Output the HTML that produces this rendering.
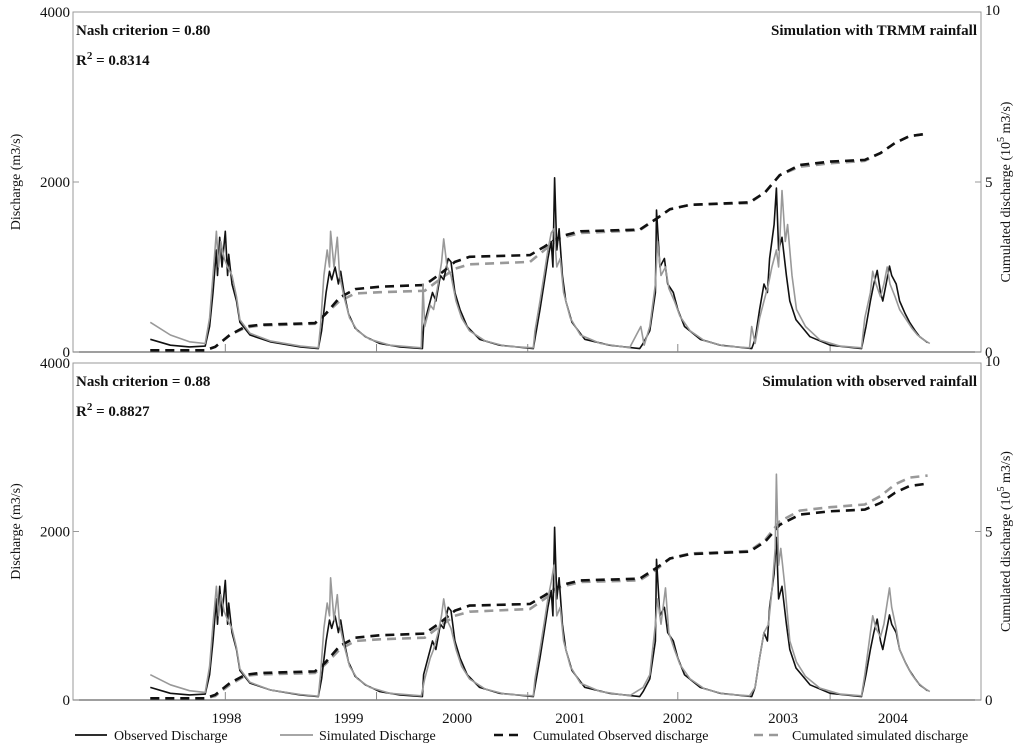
<!DOCTYPE html>
<html><head><meta charset="utf-8"><style>
html,body{margin:0;padding:0;background:#fff;}
svg{display:block;font-family:"Liberation Serif",serif;}
</style></head><body>
<svg id="chart" width="1024" height="747" viewBox="0 0 1024 747" xmlns="http://www.w3.org/2000/svg"></svg>
<script>
// ---- data (time in decimal years, Q in m3/s, cumulated in 10^5 m3/s) ----
const obsQ = [[1997.69,150],[1997.87,80],[1998.04,60],[1998.18,70],[1998.22,300],[1998.25,700],[1998.28,1200],[1998.29,900],[1998.31,1350],[1998.33,1000],[1998.36,1420],[1998.38,900],[1998.39,1150],[1998.42,800],[1998.46,600],[1998.49,350],[1998.58,200],[1998.76,120],[1999.03,60],[1999.19,40],
[1999.22,250],[1999.26,700],[1999.29,950],[1999.31,850],[1999.34,1000],[1999.37,800],[1999.39,950],[1999.42,700],[1999.46,450],[1999.52,280],[1999.61,180],[1999.74,100],[1999.92,60],[2000.12,40],
[2000.13,300],[2000.17,500],[2000.21,700],[2000.24,600],[2000.28,900],[2000.31,850],[2000.35,1100],[2000.375,1060],[2000.41,700],[2000.455,500],[2000.52,300],[2000.63,150],[2000.81,80],[2001.11,40],
[2001.13,200],[2001.17,500],[2001.205,800],[2001.24,1100],[2001.27,1300],[2001.285,1000],[2001.30,2050],[2001.32,1200],[2001.34,1450],[2001.37,900],[2001.40,600],[2001.455,350],[2001.57,150],[2001.79,80],[2002.06,40],
[2002.09,100],[2002.15,250],[2002.20,700],[2002.21,1670],[2002.24,1000],[2002.28,1100],[2002.31,800],[2002.36,700],[2002.40,500],[2002.46,300],[2002.60,150],[2002.78,80],[2003.06,40],
[2003.09,150],[2003.13,500],[2003.17,800],[2003.20,700],[2003.22,1100],[2003.26,1500],[2003.28,1930],[2003.30,1200],[2003.33,1350],[2003.37,900],[2003.40,600],[2003.455,380],[2003.58,180],[2003.76,80],[2004.04,40],
[2004.08,300],[2004.12,600],[2004.15,800],[2004.18,960],[2004.21,700],[2004.23,600],[2004.26,800],[2004.29,1010],[2004.31,900],[2004.35,800],[2004.38,600],[2004.43,450],[2004.47,350],[2004.52,250],[2004.56,180],[2004.63,110]];

const simQTrmm = [[1997.69,350],[1997.87,200],[1998.04,120],[1998.18,100],[1998.22,400],[1998.25,900],[1998.28,1420],[1998.30,1000],[1998.32,1300],[1998.35,1100],[1998.38,1000],[1998.42,900],[1998.46,650],[1998.49,380],[1998.58,220],[1998.76,130],[1999.03,70],[1999.19,50],
[1999.21,300],[1999.24,900],[1999.27,1200],[1999.29,1000],[1999.30,1420],[1999.33,1000],[1999.36,1350],[1999.38,900],[1999.42,650],[1999.47,400],[1999.54,250],[1999.65,150],[1999.83,80],[2000.11,50],
[2000.125,800],[2000.14,300],[2000.19,550],[2000.22,500],[2000.26,800],[2000.29,1050],[2000.31,1330],[2000.34,1000],[2000.375,900],[2000.42,600],[2000.47,400],[2000.54,250],[2000.68,130],[2000.86,70],[2001.11,50],
[2001.125,250],[2001.17,600],[2001.205,900],[2001.24,1200],[2001.27,1400],[2001.295,1450],[2001.32,1000],[2001.35,1100],[2001.38,700],[2001.44,400],[2001.53,200],[2001.71,100],[2001.97,50],
[2002.07,300],[2002.10,80],[2002.15,300],[2002.20,800],[2002.22,1300],[2002.25,900],[2002.29,1000],[2002.32,750],[2002.37,600],[2002.42,420],[2002.51,250],[2002.64,130],[2002.82,70],[2003.04,50],
[2003.06,300],[2003.09,100],[2003.13,400],[2003.17,600],[2003.21,800],[2003.24,1000],[2003.28,1200],[2003.30,1000],[2003.33,1900],[2003.36,1300],[2003.38,1500],[2003.42,900],[2003.46,500],[2003.54,300],[2003.67,140],[2003.85,70],[2004.04,50],
[2004.07,400],[2004.12,700],[2004.14,950],[2004.17,800],[2004.21,650],[2004.24,800],[2004.27,1000],[2004.295,800],[2004.34,650],[2004.38,500],[2004.44,380],[2004.49,280],[2004.54,200],[2004.60,140],[2004.65,100]];

const simQObs = [[1997.69,300],[1997.87,180],[1998.04,110],[1998.18,90],[1998.22,400],[1998.25,900],[1998.28,1350],[1998.30,1000],[1998.32,1250],[1998.35,1050],[1998.38,950],[1998.42,850],[1998.46,620],[1998.49,370],[1998.58,210],[1998.76,120],[1999.03,65],[1999.19,45],
[1999.21,300],[1999.24,850],[1999.27,1150],[1999.29,1000],[1999.30,1450],[1999.33,950],[1999.36,1250],[1999.38,900],[1999.42,650],[1999.47,400],[1999.54,250],[1999.65,150],[1999.83,80],[2000.11,50],
[2000.14,250],[2000.19,500],[2000.22,600],[2000.26,800],[2000.29,1000],[2000.31,1200],[2000.34,950],[2000.375,850],[2000.42,600],[2000.47,400],[2000.54,250],[2000.68,130],[2000.86,70],[2001.11,50],
[2001.125,250],[2001.17,600],[2001.205,900],[2001.24,1200],[2001.27,1400],[2001.295,1600],[2001.32,1000],[2001.35,1100],[2001.38,700],[2001.44,400],[2001.53,200],[2001.71,100],[2001.97,50],
[2002.09,150],[2002.15,300],[2002.20,900],[2002.22,1200],[2002.25,900],[2002.29,1330],[2002.32,800],[2002.37,600],[2002.42,420],[2002.51,250],[2002.64,130],[2002.82,70],[2003.04,50],
[2003.09,150],[2003.13,500],[2003.17,800],[2003.21,900],[2003.24,1300],[2003.27,1800],[2003.28,2680],[2003.30,1600],[2003.32,1800],[2003.36,1300],[2003.40,700],[2003.46,450],[2003.54,280],[2003.67,140],[2003.85,70],[2004.04,50],
[2004.07,300],[2004.12,800],[2004.14,1000],[2004.17,850],[2004.21,750],[2004.24,900],[2004.29,1330],[2004.31,1100],[2004.35,850],[2004.38,600],[2004.44,420],[2004.49,300],[2004.54,210],[2004.60,140],[2004.65,100]];

const obsCum = [[1997.69,0.05],[1998.18,0.05],[1998.27,0.15],[1998.40,0.5],[1998.54,0.75],[1998.67,0.8],[1999.16,0.85],[1999.25,1.1],[1999.38,1.6],[1999.52,1.85],[1999.74,1.92],[2000.14,1.97],[2000.28,2.3],[2000.41,2.65],[2000.54,2.8],[2001.08,2.85],[2001.21,3.1],[2001.35,3.4],[2001.53,3.55],[2002.06,3.6],[2002.20,3.9],[2002.33,4.2],[2002.51,4.33],[2003.04,4.4],[2003.18,4.7],[2003.31,5.2],[2003.49,5.5],[2003.76,5.6],[2004.07,5.65],[2004.21,5.85],[2004.34,6.15],[2004.47,6.35],[2004.63,6.42]];

const simCumTrmm = [[1997.69,0.05],[1998.18,0.05],[1998.27,0.15],[1998.40,0.5],[1998.54,0.72],[1998.67,0.78],[1999.16,0.83],[1999.25,1.1],[1999.38,1.5],[1999.52,1.72],[1999.74,1.76],[2000.14,1.8],[2000.28,2.15],[2000.41,2.45],[2000.54,2.58],[2001.08,2.65],[2001.21,3.0],[2001.35,3.35],[2001.53,3.5],[2002.06,3.58],[2002.20,3.9],[2002.33,4.2],[2002.51,4.33],[2003.04,4.38],[2003.18,4.7],[2003.31,5.2],[2003.49,5.45],[2003.76,5.55],[2004.07,5.62],[2004.21,5.85],[2004.34,6.15],[2004.47,6.35],[2004.63,6.42]];

const simCumObs = [[1997.69,0.05],[1998.18,0.05],[1998.27,0.12],[1998.40,0.45],[1998.54,0.72],[1998.67,0.76],[1999.16,0.8],[1999.25,1.05],[1999.38,1.5],[1999.52,1.75],[1999.74,1.8],[2000.14,1.85],[2000.28,2.2],[2000.41,2.5],[2000.54,2.62],[2001.08,2.7],[2001.21,3.0],[2001.35,3.35],[2001.53,3.5],[2002.06,3.55],[2002.20,3.85],[2002.33,4.2],[2002.51,4.35],[2003.04,4.42],[2003.18,4.75],[2003.31,5.3],[2003.49,5.62],[2003.76,5.72],[2004.07,5.8],[2004.21,6.05],[2004.34,6.4],[2004.47,6.6],[2004.63,6.66]];

const yearLabels = ["1998","1999","2000","2001","2002","2003","2004"];
const yearLabelPos = [1998.37,1999.46,2000.43,2001.44,2002.40,2003.34,2004.32];
const xTickPos = [1998.36,1999.71,2001.06,2002.40,2003.76];
const leftTicks = [0,2000,4000];
const rightTicks = [0,5,10];

const NS = "http://www.w3.org/2000/svg";
const svg = document.getElementById("chart");
function mk(tag, attrs, parent){
  const e = document.createElementNS(NS, tag);
  for (const k in attrs) e.setAttribute(k, attrs[k]);
  (parent||svg).appendChild(e);
  return e;
}
const X0 = 73, X1 = 981;
function xScale(t){ return X0 + (t - 1997) * 112; }

const panels = [
  {top:12, bottom:352, sim:simQTrmm, simCum:simCumTrmm, nash:"Nash criterion = 0.80", r2:"0.8314", title:"Simulation with TRMM rainfall", key:"trmm"},
  {top:363, bottom:700, sim:simQObs, simCum:simCumObs, nash:"Nash criterion = 0.88", r2:"0.8827", title:"Simulation with observed rainfall", key:"observed"}
];

panels.forEach(p => {
  const h = p.bottom - p.top;
  const yQ = v => p.bottom - v / 4000 * h;
  const yC = c => p.bottom - c / 10 * h;
  const g = mk("g", {});
  
  

  // frame
  const fr = mk("rect", {x:X0, y:p.top, width:X1-X0, height:h, fill:"none", stroke:"#999", "stroke-width":1}, g);
  
  
  mk("line", {x1:X0, y1:p.bottom, x2:X1, y2:p.bottom, stroke:"#666", "stroke-width":1.2}, g);

  // left ticks
  leftTicks.forEach(v => {
    const y = yQ(v);
    mk("line", {x1:X0, y1:y, x2:X0+6, y2:y, stroke:"#999"}, g);
    const t = mk("text", {x:X0-3, y:y+5, "text-anchor":"end", "font-size":15, fill:"#111"}, g);
    t.textContent = v;
    
    
  });
  // right ticks
  rightTicks.forEach(v => {
    const y = yC(v);
    mk("line", {x1:X1-6, y1:y, x2:X1, y2:y, stroke:"#999"}, g);
    const t = mk("text", {x:X1+4, y:y+(v===10?3:5), "font-size":15, fill:"#111"}, g);
    t.textContent = v;
    
    
  });
  // x minor ticks
  xTickPos.forEach(t => {
    mk("line", {x1:xScale(t), y1:p.bottom, x2:xScale(t), y2:p.bottom-8, stroke:"#888"}, g);
  });

  // axis titles
  const cy = p.top + h/2;
  const lt = mk("text", {x:0, y:0, "text-anchor":"middle", "font-size":14, fill:"#111", transform:`translate(20,${cy}) rotate(-90)`}, g);
  lt.textContent = "Discharge (m3/s)";
  
  
  const rt = mk("text", {x:0, y:0, "text-anchor":"middle", "font-size":14, fill:"#111", transform:`translate(1010,${cy+10}) rotate(-90)`}, g);
  rt.innerHTML = 'Cumulated discharge (10<tspan dy="-6" font-size="10">5</tspan><tspan dy="6"> m3/s)</tspan>';
  
  

  const path = (arr, sx, sy) => arr.map((d,i)=>(i?"L":"M")+sx(d[0]).toFixed(1)+","+sy(d[1]).toFixed(1)).join(" ");

  const sc = mk("path", {d:path(p.simCum, xScale, yC), fill:"none", stroke:"#999", "stroke-width":2.6, "stroke-dasharray":"9,6"}, g);
  
  
  const oc = mk("path", {d:path(obsCum, xScale, yC), fill:"none", stroke:"#111", "stroke-width":2.6, "stroke-dasharray":"9,6"}, g);
  
  
  const ol = mk("path", {d:path(obsQ, xScale, yQ), fill:"none", stroke:"#111", "stroke-width":1.6, "stroke-linejoin":"round"}, g);
  
  
  const sl = mk("path", {d:path(p.sim, xScale, yQ), fill:"none", stroke:"#999", "stroke-width":1.6, "stroke-linejoin":"round"}, g);
  
  

  // annotations
  const n = mk("text", {x:76, y:p.top+23, "font-size":15, "font-weight":"bold", fill:"#111"}, g);
  n.textContent = p.nash;
  
  
  const r = mk("text", {x:76, y:p.top+53, "font-size":15, "font-weight":"bold", fill:"#111"}, g);
  r.innerHTML = 'R<tspan dy="-6" font-size="11">2</tspan><tspan dy="6"> = ' + p.r2 + '</tspan>';
  
  
  const ti = mk("text", {x:977, y:p.top+23, "text-anchor":"end", "font-size":15, "font-weight":"bold", fill:"#111"}, g);
  ti.textContent = p.title;
  
  
});

// year labels
yearLabels.forEach((lab, i) => {
  const t = mk("text", {x:xScale(yearLabelPos[i]), y:723, "text-anchor":"middle", "font-size":15, fill:"#111"});
  t.textContent = lab;
  
  
});

// legend
const legend = [
  {x1:75,x2:107,tx:114,label:"Observed Discharge",color:"#111",dash:"",w:1.8},
  {x1:280,x2:313,tx:319,label:"Simulated Discharge",color:"#999",dash:"",w:1.8},
  {x1:494,x2:524,tx:533,label:"Cumulated Observed discharge",color:"#111",dash:"9,6",w:2.6},
  {x1:754,x2:782,tx:792,label:"Cumulated simulated discharge",color:"#999",dash:"9,6",w:2.6}
];
legend.forEach(l => {
  const g = mk("g", {});
  
  
  mk("line", {x1:l.x1, y1:735, x2:l.x2, y2:735, stroke:l.color, "stroke-width":l.w, "stroke-dasharray":l.dash}, g);
  const t = mk("text", {x:l.tx, y:740, "font-size":14, fill:"#111"}, g);
  t.textContent = l.label;
});
</script>
</body></html>
